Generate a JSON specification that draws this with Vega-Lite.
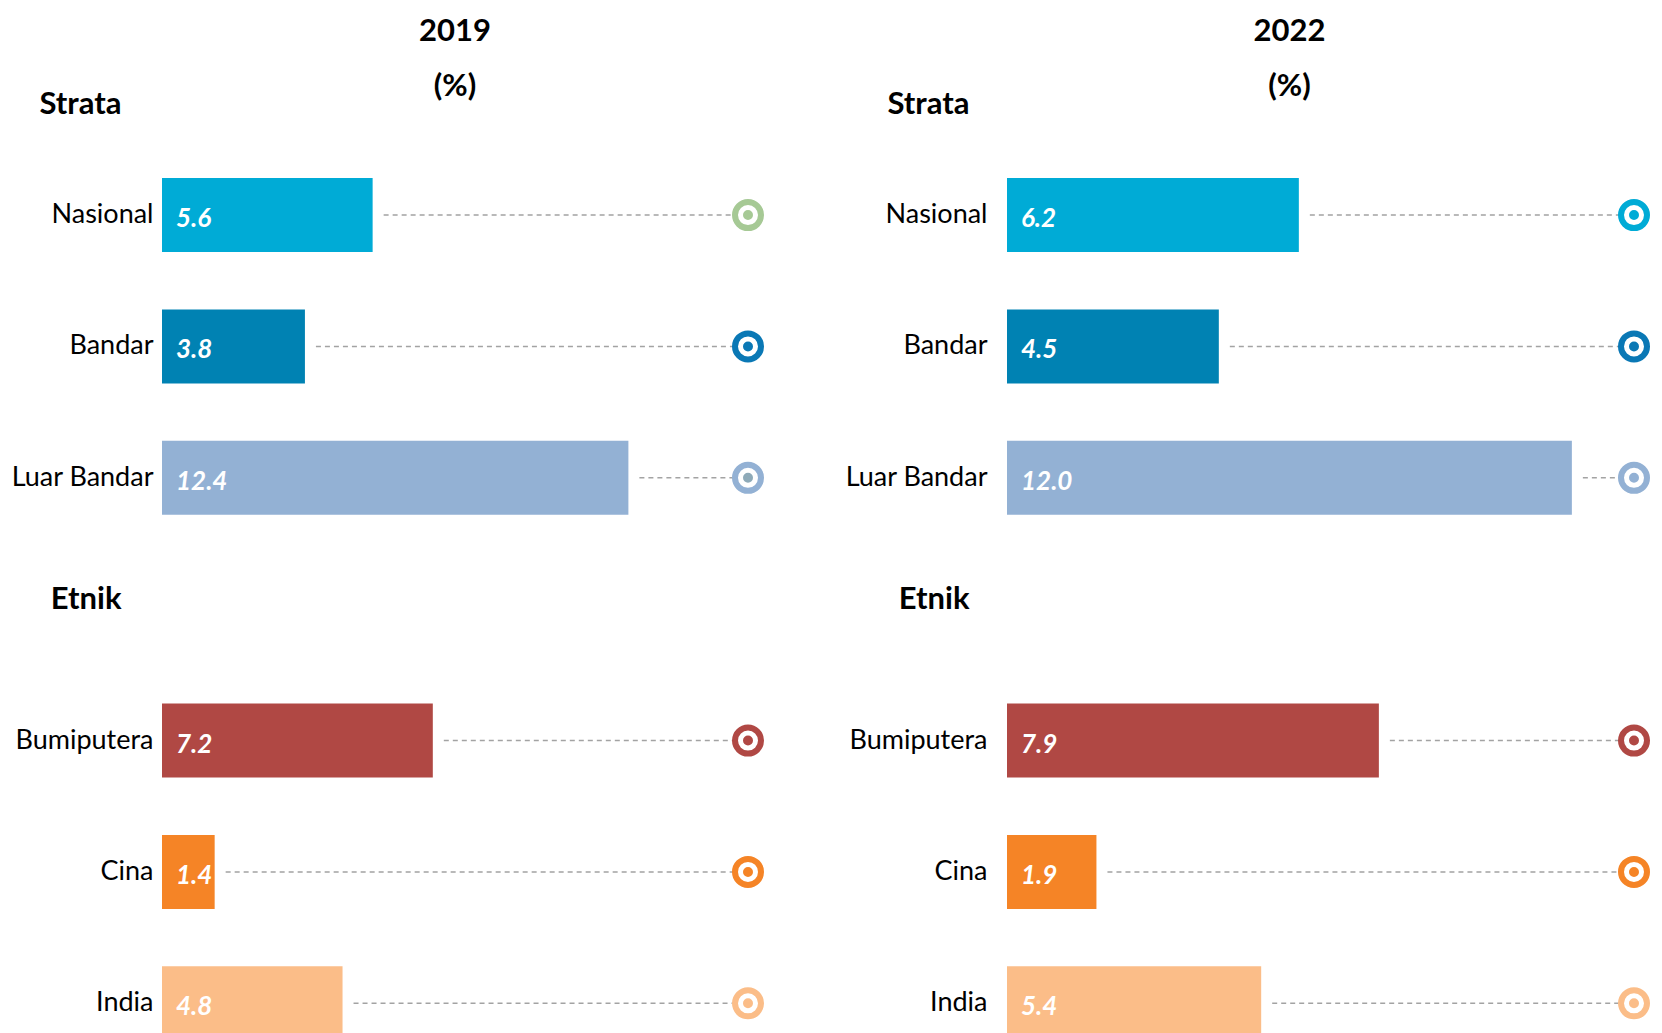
{
  "$schema": "https://vega.github.io/schema/vega-lite/v6.json",
  "padding": {"left": 10, "top": 16, "right": 0, "bottom": 0},
  "spacing": 71,
  "config": {
    "view": {"stroke": null},
    "font": "Lato",
    "title": {"font": "Lato", "fontSize": 31, "fontWeight": "bold", "color": "#000000"}
  },
  "datasets": {
    "rows": [
      {"year": "2019", "category": "Nasional", "value": 5.6},
      {"year": "2019", "category": "Bandar", "value": 3.8},
      {"year": "2019", "category": "Luar Bandar", "value": 12.4},
      {"year": "2019", "category": "Bumiputera", "value": 7.2},
      {"year": "2019", "category": "Cina", "value": 1.4},
      {"year": "2019", "category": "India", "value": 4.8},
      {"year": "2022", "category": "Nasional", "value": 6.2},
      {"year": "2022", "category": "Bandar", "value": 4.5},
      {"year": "2022", "category": "Luar Bandar", "value": 12.0},
      {"year": "2022", "category": "Bumiputera", "value": 7.9},
      {"year": "2022", "category": "Cina", "value": 1.9},
      {"year": "2022", "category": "India", "value": 5.4}
    ]
  },
  "resolve": {"scale": {"x": "independent", "stroke": "independent"}},
  "hconcat": [
    {
      "width": 586,
      "height": 1051,
      "title": {"text": ["2019", "(%)"], "lineHeight": 55, "frame": "group", "anchor": "middle", "offset": -116, "baseline": "bottom"},
      "data": {"name": "rows"},
      "transform": [{"filter": "datum.year == '2019'"}],
      "encoding": {
        "y": {
          "field": "category", "type": "nominal",
          "scale": {"domain": ["Strata", "Nasional", "Bandar", "Luar Bandar", "Etnik", "Bumiputera", "Cina", "India"], "paddingInner": 0.437, "paddingOuter": 0.2185},
          "axis": {
            "title": null, "domain": false, "ticks": false, "tickSize": 0, "grid": false,
            "labelFont": "Lato", "labelColor": "#000000",
            "labelFontSize": {"condition": {"test": "datum.value == 'Strata' || datum.value == 'Etnik'", "value": 31}, "value": 27},
            "labelFontWeight": {"condition": {"test": "datum.value == 'Strata' || datum.value == 'Etnik'", "value": "bold"}, "value": "normal"},
            "labelPadding": {"condition": {"test": "datum.value == 'Strata' || datum.value == 'Etnik'", "value": 41}, "value": 9},
            "labelOffset": {"condition": [{"test": "datum.value == 'Strata'", "value": 21}, {"test": "datum.value == 'Etnik'", "value": -9}], "value": 0}
          }
        }
      },
      "layer": [
        {
          "mark": {"type": "rule", "strokeDash": [5, 4], "strokeWidth": 1.5, "color": "#a3a3a3", "xOffset": 11},
          "encoding": {
            "x": {"field": "value", "type": "quantitative", "scale": {"domain": [0, 15.58], "nice": false, "zero": true}, "axis": null},
            "x2": {"value": "width"}
          }
        },
        {
          "mark": {"type": "bar"},
          "encoding": {
            "x": {"field": "value", "type": "quantitative"},
            "fill": {"field": "category", "type": "nominal", "legend": null,
              "scale": {"domain": ["Nasional", "Bandar", "Luar Bandar", "Bumiputera", "Cina", "India"], "range": ["#00abd6", "#0082b3", "#93b1d4", "#b04844", "#f58426", "#fbbd88"]}}
          }
        },
        {
          "mark": {"type": "text", "align": "left", "baseline": "middle", "dx": 14, "dy": 4, "font": "Lato", "fontSize": 26, "fontWeight": "bold", "fontStyle": "italic", "color": "#ffffff"},
          "encoding": {
            "x": {"datum": 0},
            "text": {"field": "value", "type": "quantitative", "format": ".1f"}
          }
        },
        {
          "mark": {"type": "point", "shape": "circle", "filled": false, "fill": "#ffffff", "fillOpacity": 1, "strokeWidth": 6, "size": 676, "opacity": 1},
          "encoding": {
            "x": {"value": "width"},
            "stroke": {"field": "category", "type": "nominal", "legend": null,
              "scale": {"domain": ["Nasional", "Bandar", "Luar Bandar", "Bumiputera", "Cina", "India"], "range": ["#a6c995", "#0a78b5", "#93b1d4", "#b04844", "#f58426", "#fbbd88"]}}
          }
        },
        {
          "mark": {"type": "point", "shape": "circle", "filled": false, "fill": null, "strokeWidth": 5, "size": 25, "opacity": 1},
          "encoding": {
            "x": {"value": "width"},
            "stroke": {"condition": {"test": "datum.category == 'Luar Bandar'", "value": "#8eaab8"}, "field": "category", "type": "nominal", "legend": null}
          }
        }
      ]
    },
    {
      "width": 627,
      "height": 1051,
      "title": {"text": ["2022", "(%)"], "lineHeight": 55, "frame": "group", "anchor": "middle", "offset": -116, "baseline": "bottom", "dx": -31},
      "data": {"name": "rows"},
      "transform": [{"filter": "datum.year == '2022'"}],
      "encoding": {
        "y": {
          "field": "category", "type": "nominal",
          "scale": {"domain": ["Strata", "Nasional", "Bandar", "Luar Bandar", "Etnik", "Bumiputera", "Cina", "India"], "paddingInner": 0.437, "paddingOuter": 0.2185},
          "axis": {
            "title": null, "domain": false, "ticks": false, "tickSize": 0, "grid": false,
            "labelFont": "Lato", "labelColor": "#000000",
            "labelFontSize": {"condition": {"test": "datum.value == 'Strata' || datum.value == 'Etnik'", "value": 31}, "value": 27},
            "labelFontWeight": {"condition": {"test": "datum.value == 'Strata' || datum.value == 'Etnik'", "value": "bold"}, "value": "normal"},
            "labelPadding": {"condition": {"test": "datum.value == 'Strata' || datum.value == 'Etnik'", "value": 38}, "value": 20},
            "labelOffset": {"condition": [{"test": "datum.value == 'Strata'", "value": 21}, {"test": "datum.value == 'Etnik'", "value": -9}], "value": 0}
          }
        }
      },
      "layer": [
        {
          "mark": {"type": "rule", "strokeDash": [5, 4], "strokeWidth": 1.5, "color": "#a3a3a3", "xOffset": 11},
          "encoding": {
            "x": {"field": "value", "type": "quantitative", "scale": {"domain": [0, 13.32], "nice": false, "zero": true}, "axis": null},
            "x2": {"value": "width"}
          }
        },
        {
          "mark": {"type": "bar"},
          "encoding": {
            "x": {"field": "value", "type": "quantitative"},
            "fill": {"field": "category", "type": "nominal", "legend": null,
              "scale": {"domain": ["Nasional", "Bandar", "Luar Bandar", "Bumiputera", "Cina", "India"], "range": ["#00abd6", "#0082b3", "#93b1d4", "#b04844", "#f58426", "#fbbd88"]}}
          }
        },
        {
          "mark": {"type": "text", "align": "left", "baseline": "middle", "dx": 14, "dy": 4, "font": "Lato", "fontSize": 26, "fontWeight": "bold", "fontStyle": "italic", "color": "#ffffff"},
          "encoding": {
            "x": {"datum": 0},
            "text": {"field": "value", "type": "quantitative", "format": ".1f"}
          }
        },
        {
          "mark": {"type": "point", "shape": "circle", "filled": false, "fill": "#ffffff", "fillOpacity": 1, "strokeWidth": 6, "size": 676, "opacity": 1},
          "encoding": {
            "x": {"value": "width"},
            "stroke": {"field": "category", "type": "nominal", "legend": null,
              "scale": {"domain": ["Nasional", "Bandar", "Luar Bandar", "Bumiputera", "Cina", "India"], "range": ["#00abd6", "#0a78b5", "#93b1d4", "#b04844", "#f58426", "#fbbd88"]}}
          }
        },
        {
          "mark": {"type": "point", "shape": "circle", "filled": false, "fill": null, "strokeWidth": 5, "size": 25, "opacity": 1},
          "encoding": {
            "x": {"value": "width"},
            "stroke": {"field": "category", "type": "nominal", "legend": null}
          }
        }
      ]
    }
  ]
}
